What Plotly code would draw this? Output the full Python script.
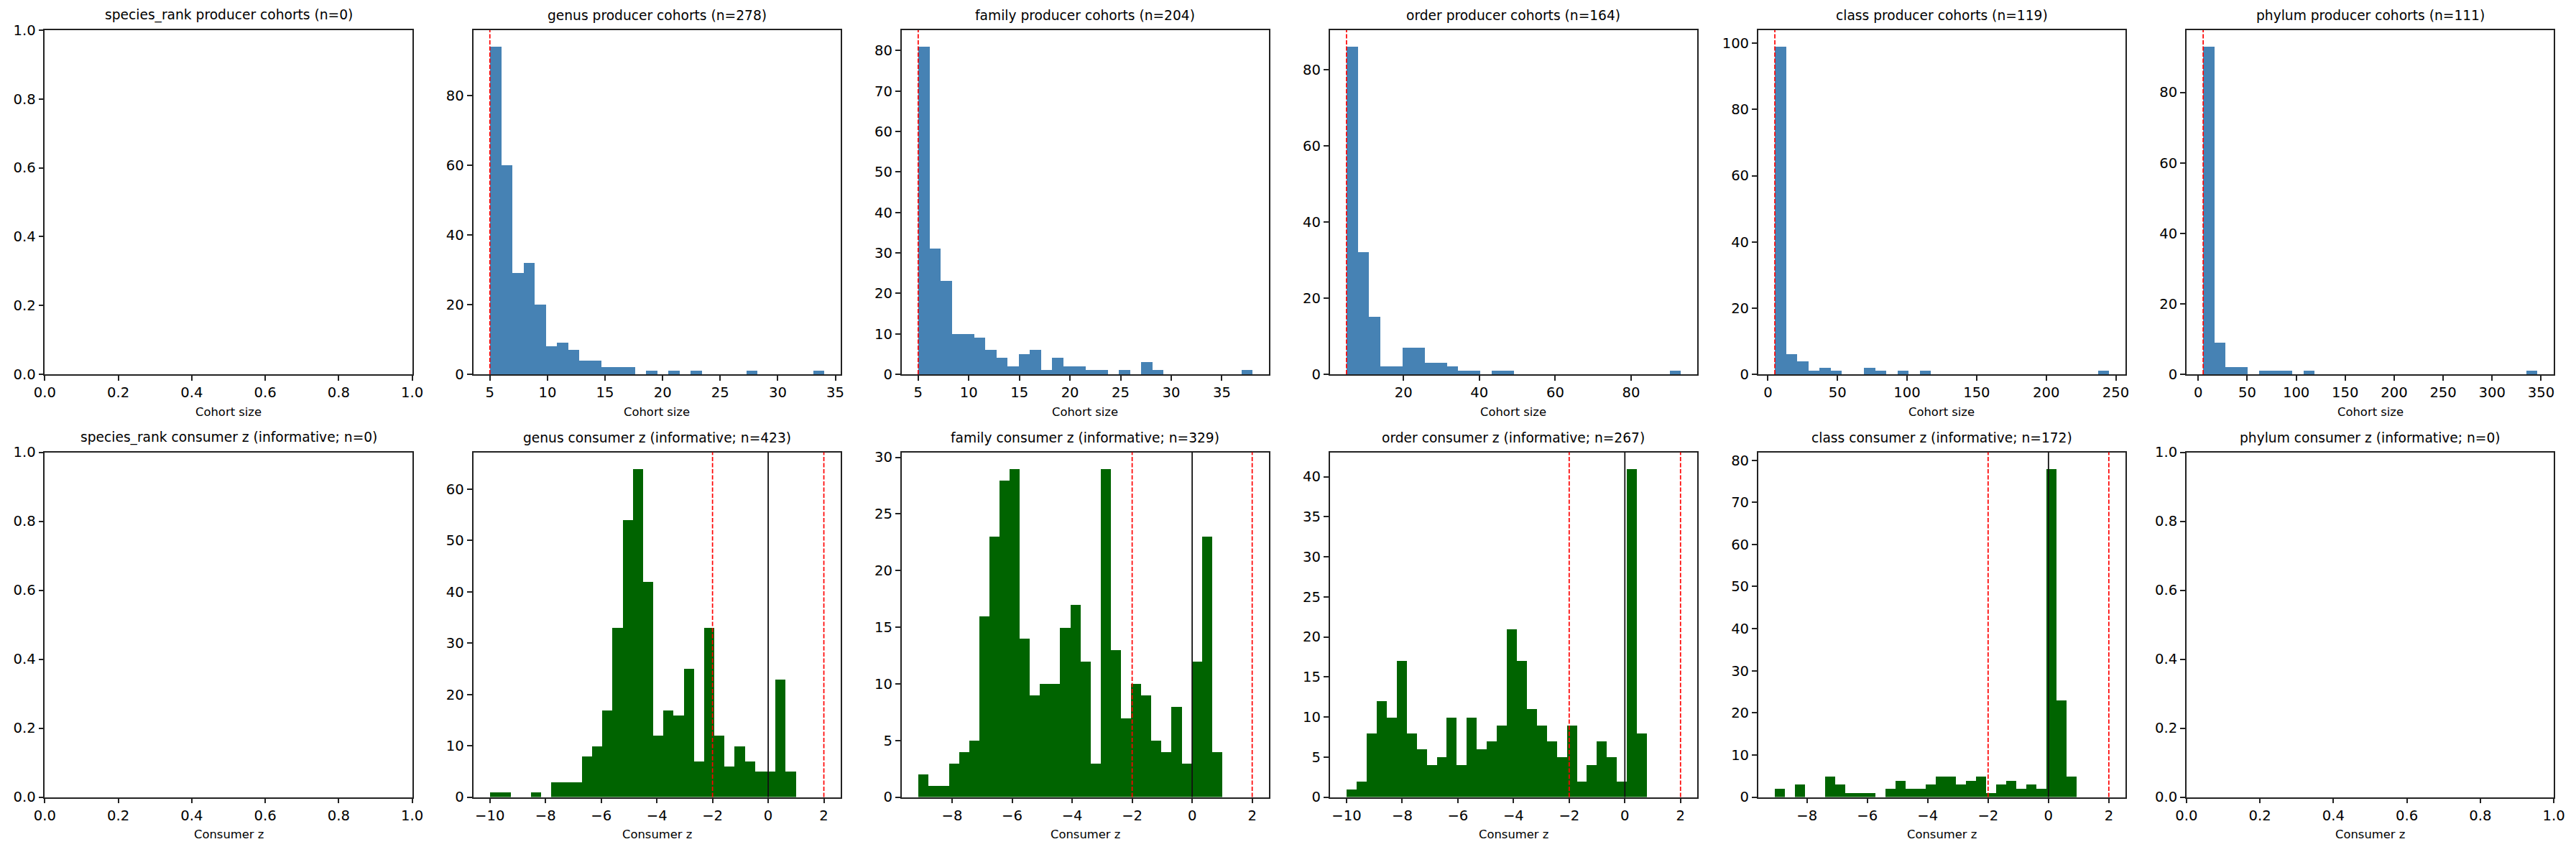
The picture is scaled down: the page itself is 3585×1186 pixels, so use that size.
import plotly.graph_objects as go

W, H = 3585, 1186

ranks = ["species_rank", "genus", "family", "order", "class", "phylum"]

# ---- producer cohort-size histograms (30 equal bins between min and max size)
producer_n = [0, 278, 204, 164, 119, 111]
producer_lo = [None, 5, 5, 5, 5, 5]
producer_hi = [None, 34, 38, 93, 245, 346]
species_prod_counts = []
genus_prod_counts = [94, 60, 29, 32, 20, 8, 9, 7, 4, 4, 2, 2, 2, 0, 1, 0, 1, 0, 1, 0,
                     0, 0, 0, 1, 0, 0, 0, 0, 0, 1]
family_prod_counts = [81, 31, 23, 10, 10, 9, 6, 4, 2, 5, 6, 1, 4, 2, 2, 1, 1, 0, 1, 0,
                      3, 1, 0, 0, 0, 0, 0, 0, 0, 1]
order_prod_counts = [86, 32, 15, 2, 2, 7, 7, 3, 3, 2, 1, 1, 0, 1, 1, 0, 0, 0, 0, 0,
                     0, 0, 0, 0, 0, 0, 0, 0, 0, 1]
class_prod_counts = [99, 6, 4, 1, 2, 1, 0, 0, 2, 1, 0, 1, 0, 1, 0, 0, 0, 0, 0, 0,
                     0, 0, 0, 0, 0, 0, 0, 0, 0, 1]
phylum_prod_counts = [93, 9, 2, 2, 0, 1, 1, 1, 0, 1, 0, 0, 0, 0, 0, 0, 0, 0, 0, 0,
                      0, 0, 0, 0, 0, 0, 0, 0, 0, 1]
producer_counts = [species_prod_counts, genus_prod_counts, family_prod_counts,
                   order_prod_counts, class_prod_counts, phylum_prod_counts]
min_cohort = 5

# ---- consumer z histograms (30 equal bins between min and max z)
consumer_n = [0, 423, 329, 267, 172, 0]
consumer_lo = [None, -10.0, -9.13, -10.0, -9.065, None]
consumer_hi = [None, 0.98, 0.99, 0.785, 0.925, None]
species_cons_counts = []
genus_cons_counts = [1, 1, 0, 0, 1, 0, 3, 3, 3, 8, 10, 17, 33, 54, 64, 42, 12, 17, 16, 25,
                     7, 33, 12, 6, 10, 7, 5, 5, 23, 5]
family_cons_counts = [2, 1, 1, 3, 4, 5, 16, 23, 28, 29, 14, 9, 10, 10, 15, 17, 12, 3, 29, 13,
                      7, 10, 9, 5, 4, 8, 3, 12, 23, 4]
order_cons_counts = [1, 2, 8, 12, 10, 17, 8, 6, 4, 5, 10, 4, 10, 6, 7, 9, 21, 17, 11, 9,
                     7, 5, 9, 2, 4, 7, 5, 2, 41, 8]
class_cons_counts = [2, 0, 3, 0, 0, 5, 3, 1, 1, 1, 0, 2, 4, 2, 2, 3, 5, 5, 3, 4,
                     5, 1, 3, 4, 2, 3, 2, 78, 23, 5]
phylum_cons_counts = []
consumer_counts = [species_cons_counts, genus_cons_counts, family_cons_counts,
                   order_cons_counts, class_cons_counts, phylum_cons_counts]
z_thresholds = [-2, 2]
z_center = 0

# ---- tick spacing per panel
prod_xdtick = [0.2, 5, 5, 20, 50, 50]
prod_ydtick = [0.2, 20, 10, 20, 20, 20]
cons_xdtick = [0.2, 2, 2, 2, 2, 0.2]
cons_ydtick = [0.2, 10, 5, 5, 10, 0.2]

# ---- styles / layout geometry (pixels)
FONT = "DejaVu Sans"
PROD_COLOR = "#4682B4"
CONS_COLOR = "#006400"
AX_LEFT0, AX_STEP, AX_W = 62.4, 596.1, 511.3
ROW_TOP = [(42.0, 521.0), (629.5, 1109.5)]
TICK_FS, TITLE_FS, LABEL_FS = 19.6, 18.65, 16.4
NBINS = 30

fig = go.Figure()
layout = dict(width=W, height=H, margin=dict(l=0, r=0, t=0, b=0, pad=0, autoexpand=False),
              paper_bgcolor="white", plot_bgcolor="white", showlegend=False,
              bargap=0, barmode="overlay", font=dict(family=FONT, color="black"))
annotations, shapes = [], []


def axis_common():
    return dict(showgrid=False, zeroline=False, showline=True, mirror=True,
                automargin=False,
                linecolor="#222222", linewidth=1.6, ticks="outside", ticklen=7,
                tickwidth=1.6, tickcolor="#222222",
                tickfont=dict(family=FONT, size=TICK_FS, color="black"))


for row in range(2):
    for col in range(6):
        k = row * 6 + col + 1
        x0 = (AX_LEFT0 + AX_STEP * col) / W
        x1 = (AX_LEFT0 + AX_STEP * col + AX_W) / W
        top_px, bot_px = ROW_TOP[row]
        y0 = 1 - bot_px / H
        y1 = 1 - top_px / H
        if row == 0:
            counts, lo, hi = producer_counts[col], producer_lo[col], producer_hi[col]
            color = PROD_COLOR
            title = f"{ranks[col]} producer cohorts (n={producer_n[col]})"
            xlabel = "Cohort size"
            xd, yd = prod_xdtick[col], prod_ydtick[col]
            vlines = [(min_cohort, "red", "6px,2.5px", 1.7)]
        else:
            counts, lo, hi = consumer_counts[col], consumer_lo[col], consumer_hi[col]
            color = CONS_COLOR
            title = f"{ranks[col]} consumer z (informative; n={consumer_n[col]})"
            xlabel = "Consumer z"
            xd, yd = cons_xdtick[col], cons_ydtick[col]
            vlines = [(z_thresholds[0], "red", "6px,2.5px", 1.7),
                      (z_center, "#111111", "solid", 1.8),
                      (z_thresholds[1], "red", "6px,2.5px", 1.7)]

        xa = axis_common()
        ya = axis_common()
        xa.update(domain=[x0, x1], anchor=f"y{k}", tick0=0, dtick=xd, tickmode="linear")
        ya.update(domain=[y0, y1], anchor=f"x{k}", tick0=0, dtick=yd, tickmode="linear")

        if counts:
            bw = (hi - lo) / NBINS
            centers = [lo + bw * (i + 0.5) for i in range(NBINS)]
            fig.add_trace(go.Bar(x=centers, y=counts, width=[bw] * NBINS,
                                 marker=dict(color=color, line=dict(width=0)),
                                 xaxis=f"x{k}", yaxis=f"y{k}", hoverinfo="skip"))
            vx = [v[0] for v in vlines]
            dmin, dmax = min(lo, min(vx)), max(hi, max(vx))
            span = dmax - dmin
            xa.update(range=[dmin - 0.05 * span, dmax + 0.05 * span])
            ya.update(range=[0, max(counts) * 1.05])
            for vxv, vc, vdash, vw in vlines:
                shapes.append(dict(type="line", xref=f"x{k}", yref=f"y{k} domain",
                                   x0=vxv, x1=vxv, y0=0, y1=1, layer="above",
                                   line=dict(color=vc, width=vw, dash=vdash)))
        else:
            # empty panel (n=0): placeholder trace so the axes are still drawn
            fig.add_trace(go.Scatter(x=[None], y=[None], mode="markers",
                                     xaxis=f"x{k}", yaxis=f"y{k}", hoverinfo="skip"))
            xa.update(range=[0, 1], tickformat=".1f")
            ya.update(range=[0, 1], tickformat=".1f")

        layout[f"xaxis{k}"] = xa
        layout[f"yaxis{k}"] = ya

        annotations.append(dict(text=title, xref="paper", yref="paper",
                                x=(x0 + x1) / 2, y=y1, xanchor="center", yanchor="bottom",
                                yshift=8, showarrow=False,
                                font=dict(family=FONT, size=TITLE_FS, color="black")))
        annotations.append(dict(text=xlabel, xref="paper", yref="paper",
                                x=(x0 + x1) / 2, y=y0, xanchor="center", yanchor="middle",
                                yshift=-52, showarrow=False,
                                font=dict(family=FONT, size=LABEL_FS, color="black")))

layout["annotations"] = annotations
layout["shapes"] = shapes
fig.update_layout(**layout)
fig.write_html("out.html")
